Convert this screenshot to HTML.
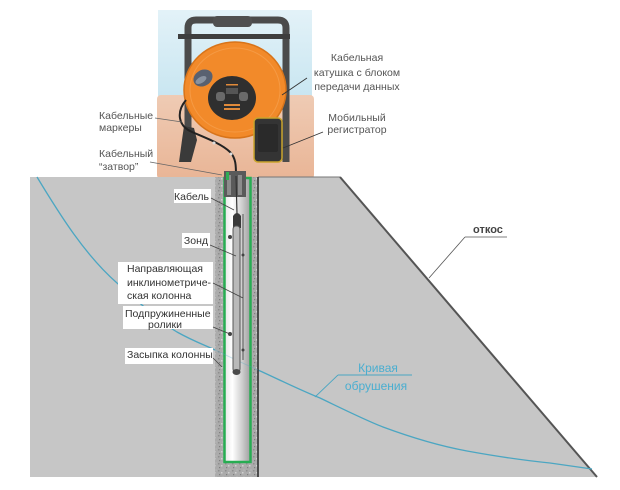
<!DOCTYPE html>
<html><head><meta charset="utf-8"><style>
html,body{margin:0;padding:0;background:#fff;}
svg{display:block;}
text{font-family:"Liberation Sans","DejaVu Sans",sans-serif;}
</style></head><body>
<svg width="620" height="490" viewBox="0 0 620 490" xmlns="http://www.w3.org/2000/svg">
<defs>
<pattern id="grain" width="7" height="7" patternUnits="userSpaceOnUse">
<rect width="7" height="7" fill="#ababab"/>
<rect x="1" y="1" width="1.5" height="1.5" fill="#8e8e8e"/>
<rect x="4" y="3" width="1.5" height="1.5" fill="#d0d0d0"/>
<rect x="2" y="5" width="1.2" height="1.2" fill="#7f7f7f"/>
<rect x="5.5" y="0.5" width="1" height="1" fill="#c4c4c4"/>
</pattern>
<linearGradient id="pipe" x1="0" x2="1" y1="0" y2="0">
<stop offset="0" stop-color="#e6e6e6"/>
<stop offset="0.3" stop-color="#ffffff"/>
<stop offset="0.65" stop-color="#d2d2d2"/>
<stop offset="1" stop-color="#9e9e9e"/>
</linearGradient>
<linearGradient id="sky" x1="0" x2="0" y1="0" y2="1">
<stop offset="0" stop-color="#e3f2f8"/>
<stop offset="1" stop-color="#c9e6f1"/>
</linearGradient>
<linearGradient id="sand" x1="0" x2="0" y1="0" y2="1">
<stop offset="0" stop-color="#efcbb4"/>
<stop offset="1" stop-color="#e9b596"/>
</linearGradient>
</defs>

<!-- top photo background -->
<rect x="158" y="10" width="154" height="86" fill="url(#sky)"/>
<rect x="157" y="95" width="157" height="84" rx="4" fill="url(#sand)"/>

<!-- frame -->
<path d="M188,130 L188,28 Q188,20 196,20 L278,20 Q286,20 286,28 L286,162" fill="none" stroke="#4b4b4b" stroke-width="7"/>
<rect x="178" y="34" width="112" height="5" fill="#3e3e3e"/>
<rect x="213" y="16" width="39" height="11" rx="4" fill="#505050"/>
<polygon points="184,126 194,128 197,140 191,162 179,162 182,140" fill="#3a3a3a"/>

<!-- reel -->
<ellipse cx="235" cy="90" rx="51" ry="48" fill="#f28a2a" stroke="#d8741a" stroke-width="1.5"/>
<ellipse cx="235" cy="90" rx="45" ry="42" fill="none" stroke="#f59a44" stroke-width="1"/>
<ellipse cx="232" cy="98" rx="24" ry="22" fill="#2f2f2f"/>
<rect x="216" y="92" width="9" height="9" rx="3" fill="#6a6a6a"/>
<rect x="239" y="92" width="9" height="9" rx="3" fill="#6a6a6a"/>
<rect x="226" y="88" width="12" height="6" fill="#555"/>
<rect x="224" y="104" width="16" height="2" fill="#e08a3a"/>
<rect x="224" y="108" width="16" height="2" fill="#e08a3a"/>
<rect x="226" y="84" width="12" height="1.5" fill="#e08a3a"/>
<ellipse cx="203" cy="78" rx="10" ry="8" transform="rotate(-30 203 78)" fill="#596170"/>
<ellipse cx="201" cy="80" rx="6" ry="3" transform="rotate(-30 201 80)" fill="#8a93a0"/>

<!-- mobile -->
<rect x="254" y="118" width="28" height="44" rx="4" fill="#343434" stroke="#c9a42c" stroke-width="1.5"/>
<rect x="258" y="124" width="20" height="28" rx="2" fill="#2a2a2a"/>

<!-- cable -->
<path d="M186,100 C176,112 178,126 192,132 C206,138 222,144 230,152 C236,158 236,166 236,176" fill="none" stroke="#222" stroke-width="2"/>
<circle cx="214" cy="143" r="1.5" fill="#ddd"/>
<circle cx="231" cy="154" r="1.5" fill="#ddd"/>

<!-- ground -->
<rect x="30" y="177" width="186" height="300" fill="#c6c6c6"/>
<polygon points="258,177 340,177 597,477 258,477" fill="#c6c6c6"/>
<line x1="340" y1="177" x2="597" y2="477" stroke="#555" stroke-width="2"/>
<line x1="258" y1="177" x2="340" y2="177" stroke="#777" stroke-width="1"/>

<!-- slide curve -->
<path d="M37,177 C60,215 85,255 117,283 C140,303 160,322 177,332 C195,342 205,345 215,350 M258,370 C280,380 300,390 320,398 C345,410 365,420 383,427 C410,437 440,446 467,451 C500,457 530,461 550,463 L592,469" fill="none" stroke="#4ba6c2" stroke-width="1.3"/>

<!-- borehole -->
<rect x="215" y="177" width="43" height="300" fill="url(#grain)"/>
<line x1="258" y1="177" x2="258" y2="477" stroke="#3e3e3e" stroke-width="1.8"/>
<rect x="224.5" y="178" width="26" height="284" fill="url(#pipe)" stroke="#27ad52" stroke-width="2.5"/>
<path d="M258,370 C240,362 228,356 215,350" fill="none" stroke="#4ba6c2" stroke-width="1" opacity="0.3"/>

<!-- cap -->
<rect x="224" y="171" width="22" height="26" fill="#5a5a5a"/>
<rect x="227" y="175" width="4" height="20" fill="#8c8c8c"/>
<rect x="238" y="175" width="4" height="20" fill="#8c8c8c"/>
<rect x="226" y="172" width="3" height="8" fill="#2eae55"/>

<!-- probe -->
<line x1="236" y1="176" x2="237" y2="214" stroke="#333" stroke-width="1.2"/>
<path d="M233,216 Q237,210 241,216 L241,228 L233,228 Z" fill="#3a3a3a"/>
<rect x="233" y="226" width="7" height="146" rx="3" fill="#b9b9b9" stroke="#555" stroke-width="1"/>
<ellipse cx="236.5" cy="372" rx="4" ry="3" fill="#4a4a4a"/>
<line x1="243" y1="214" x2="243" y2="360" stroke="#555" stroke-width="1"/>
<circle cx="230" cy="237" r="2" fill="#444"/>
<circle cx="243" cy="255" r="1.5" fill="#444"/>
<circle cx="230" cy="334" r="2" fill="#444"/>
<circle cx="243" cy="350" r="1.5" fill="#444"/>

<!-- borehole labels -->
<g font-size="10.5" fill="#333">
<rect x="174" y="189" width="37" height="14" fill="#fff"/>
<text x="209" y="200" text-anchor="end">Кабель</text>
<line x1="211" y1="198" x2="234" y2="210" stroke="#444" stroke-width="0.8"/>

<rect x="182" y="233" width="28" height="15" fill="#fff"/>
<text x="208" y="244" text-anchor="end">Зонд</text>
<line x1="210" y1="245" x2="236" y2="256" stroke="#444" stroke-width="0.8"/>

<rect x="118" y="262" width="95" height="42" fill="#fff"/>
<text x="127" y="272">Направляющая</text>
<text x="127" y="286">инклинометриче-</text>
<text x="127" y="299">ская колонна</text>
<line x1="213" y1="283" x2="243" y2="298" stroke="#444" stroke-width="0.8"/>

<rect x="123" y="306" width="90" height="23" fill="#fff"/>
<text x="125" y="317">Подпружиненные</text>
<text x="165" y="328" text-anchor="middle">ролики</text>
<line x1="213" y1="327" x2="230" y2="334" stroke="#444" stroke-width="0.8"/>

<rect x="125" y="348" width="88" height="16" fill="#fff"/>
<text x="127" y="358">Засыпка колонны</text>
<line x1="213" y1="358" x2="222" y2="367" stroke="#444" stroke-width="0.8"/>
</g>

<!-- top labels -->
<g font-size="10.5" fill="#555">
<text x="99" y="119">Кабельные</text>
<text x="99" y="131">маркеры</text>
<line x1="155" y1="118" x2="182" y2="122" stroke="#666" stroke-width="0.8"/>
<text x="99" y="157">Кабельный</text>
<text x="99" y="170">“затвор”</text>
<line x1="150" y1="162" x2="222" y2="175" stroke="#666" stroke-width="0.8"/>

<text x="357" y="61" text-anchor="middle">Кабельная</text>
<text x="357" y="76" text-anchor="middle">катушка с блоком</text>
<text x="357" y="90" text-anchor="middle">передачи данных</text>
<line x1="307" y1="78" x2="282" y2="95" stroke="#333" stroke-width="0.9"/>

<text x="357" y="121" text-anchor="middle">Мобильный</text>
<text x="357" y="133" text-anchor="middle">регистратор</text>
<line x1="323" y1="132" x2="283" y2="148" stroke="#333" stroke-width="0.9"/>
</g>

<!-- откос -->
<text x="473" y="233" font-size="11" font-weight="bold" fill="#444">откос</text>
<line x1="465" y1="237" x2="507" y2="237" stroke="#555" stroke-width="0.8"/>
<line x1="465" y1="237" x2="429" y2="278" stroke="#555" stroke-width="0.8"/>

<!-- кривая обрушения -->
<g font-size="12" fill="#4aaed0" text-anchor="middle">
<text x="378" y="372">Кривая</text>
<text x="376" y="390">обрушения</text>
</g>
<line x1="338" y1="375" x2="412" y2="375" stroke="#4ba6c2" stroke-width="0.9"/>
<line x1="338" y1="375" x2="315" y2="397" stroke="#4ba6c2" stroke-width="0.9"/>
</svg>
</body></html>
